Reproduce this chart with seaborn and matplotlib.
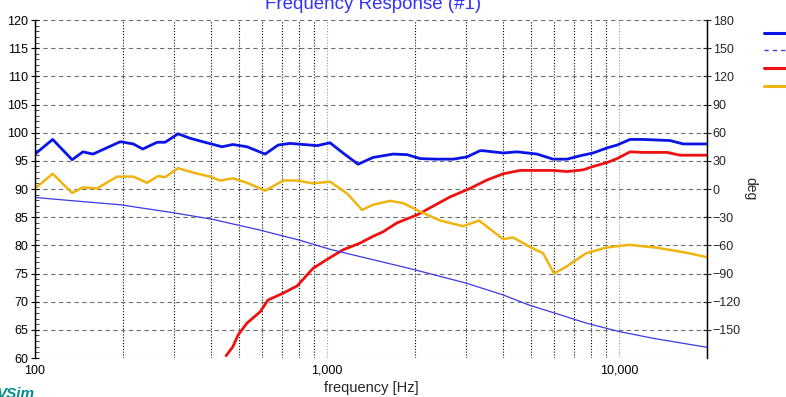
import numpy as np
import pandas as pd
import matplotlib
matplotlib.use('Agg')
import matplotlib.pyplot as plt
import matplotlib.ticker as mticker
from matplotlib.lines import Line2D
import seaborn as sns

# SPL curve (left axis, dB)
spl_freq = [100, 115, 134, 146, 158, 196, 217, 234, 262, 279, 309, 340, 388, 437,
            476, 532, 614, 680, 747, 924, 1024, 1134, 1277, 1437, 1683, 1879, 2083,
            2381, 2701, 3016, 3342, 3421, 4007, 4474, 5240, 5943, 6636, 7352, 8147,
            9098, 9844, 10905, 12085, 14950, 16570, 20000]
spl_db = [96.2, 98.8, 95.2, 96.6, 96.2, 98.4, 98.0, 97.1, 98.3, 98.3, 99.8, 99.0, 98.2, 97.5,
          97.9, 97.5, 96.2, 97.8, 98.1, 97.7, 98.2, 96.4, 94.4, 95.6, 96.2, 96.1, 95.4,
          95.3, 95.3, 95.7, 96.8, 96.8, 96.4, 96.6, 96.2, 95.3, 95.3, 95.9, 96.4,
          97.3, 97.8, 98.8, 98.8, 98.6, 98.0, 98.0]

# second SPL curve (left axis, dB)
red_freq = [451, 476, 496, 532, 590, 628, 707, 790, 895, 1000, 1134, 1297, 1437, 1555,
            1737, 2033, 2638, 3088, 3531, 4007, 4581, 5943, 6636, 7529, 8147, 9098,
            9844, 10905, 12085, 14600, 16180, 20000]
red_db = [60.4, 62.0, 64.1, 66.2, 68.2, 70.3, 71.5, 72.8, 75.9, 77.5, 79.2, 80.4, 81.6, 82.4,
          84.0, 85.4, 88.6, 90.1, 91.6, 92.7, 93.3, 93.3, 93.1, 93.4, 94.0, 94.7,
          95.4, 96.6, 96.5, 96.5, 96.0, 96.0]

# phase curves (right axis, deg)
phase_freq = [100, 129, 196, 297, 407, 590, 808, 1024, 1297, 1778, 2017, 2992, 4007,
              4918, 6085, 7709, 10000, 13077, 20000]
phase_deg = [-9, -12, -16.8, -25.2, -32.4, -43.8, -54.6, -64.2, -72, -82.2, -86.4, -100.2,
             -112.8, -123.6, -132.6, -142.8, -151.8, -159, -168.6]

orange_freq = [100, 115, 134, 146, 163, 191, 217, 242, 264, 279, 309, 348, 398, 430, 476,
               532, 614, 707, 790, 895, 1024, 1171, 1318, 1437, 1644, 1821, 2083, 2438,
               2923, 3316, 4007, 4335, 4918, 5492, 5990, 6584, 7709, 9027, 10820, 13390,
               16960, 20000]
orange_deg = [0.6, 16.2, -4.2, 1.8, 0.6, 13.2, 13.2, 6.6, 13.8, 12.6, 22.2, 17.4, 13.2, 9,
              11.4, 6.6, -1.8, 9, 9, 6, 7.8, -4.8, -22.2, -16.8, -12.6, -15, -24, -33.6,
              -39.6, -33.6, -53.4, -51.6, -61.2, -68.4, -90, -82.8, -68.4, -62.4, -59.4,
              -62.4, -67.8, -72.6]

sns.set_style('white')
plt.rcParams['font.family'] = ['Liberation Sans', 'DejaVu Sans']

c_blue = '#0a14e6'
c_blue_thin = '#3a3ae6'
c_red = '#ee1111'
c_orange = '#f0b410'

fig = plt.figure(figsize=(7.86, 3.97), dpi=100)
ax = fig.add_axes([0.0445, 0.0982, 0.855, 0.8514])
ax2 = ax.twinx()

sns.lineplot(x=spl_freq, y=spl_db, ax=ax, color=c_blue, lw=2.0, sort=False, estimator=None)
sns.lineplot(x=red_freq, y=red_db, ax=ax, color=c_red, lw=2.0, sort=False, estimator=None)
sns.lineplot(x=phase_freq, y=phase_deg, ax=ax2, color=c_blue_thin, lw=0.9, sort=False, estimator=None)
sns.lineplot(x=orange_freq, y=orange_deg, ax=ax2, color=c_orange, lw=1.8, sort=False, estimator=None)

ax.set_xscale('log')
ax.set_xlim(100, 20000)
ax.set_ylim(60, 120)
ax2.set_ylim(-180, 180)

ax.xaxis.set_major_locator(mticker.FixedLocator([100, 1000, 10000]))
ax.xaxis.set_major_formatter(mticker.FixedFormatter(['100', '1,000', '10,000']))
ax.xaxis.set_minor_locator(mticker.LogLocator(base=10, subs=np.arange(2, 10), numticks=20))
ax.xaxis.set_minor_formatter(mticker.NullFormatter())
ax.yaxis.set_major_locator(mticker.MultipleLocator(5))
ax.yaxis.set_minor_locator(mticker.MultipleLocator(1))
ax2.yaxis.set_major_locator(mticker.FixedLocator(list(range(-150, 181, 30))))

ax.tick_params(axis='both', which='major', direction='inout', length=6, width=0.8,
               labelsize=9, colors='black', pad=2)
ax.tick_params(axis='both', which='minor', direction='in', length=3, width=0.6)
ax.tick_params(axis='x', which='minor', length=0)
ax2.tick_params(axis='y', which='major', direction='inout', length=6, width=0.8,
                labelsize=9, pad=1)

ax.grid(True, axis='y', which='major', color='#707070', linestyle=(0, (4, 3)), lw=0.8)
ax.grid(True, axis='x', which='minor', color='black', linestyle=(0, (1, 1.6)), lw=0.8)
ax.grid(True, axis='x', which='major', color='#999999', linestyle=(0, (1, 1.6)), lw=0.8)
ax.set_axisbelow(True)

for a in (ax, ax2):
    a.spines['top'].set_visible(False)
    a.spines['bottom'].set_visible(False)
    a.spines['left'].set_color('black')
    a.spines['right'].set_color('black')
    a.spines['left'].set_linewidth(0.9)
    a.spines['right'].set_linewidth(0.9)
    a.set_ylabel('')

ax.set_xlabel('frequency [Hz]', fontsize=10.5, labelpad=3)
ax2.set_ylabel('deg', rotation=270, fontsize=10, labelpad=12)

# title sits partly above the top edge, as in the reference
fig.text(0.475, 1 - 9 / 397, 'Frequency Response (#1)', ha='center', va='baseline',
         color='#3333ff', fontsize=13.5)
fig.text(-0.004, 1 - 387 / 397, 'VSim', ha='left', va='top', color='#008b8b',
         fontsize=11, fontweight='bold', fontstyle='italic')

handles = [Line2D([], [], color=c_blue, lw=2.2),
           Line2D([], [], color=c_blue_thin, lw=1.0, linestyle=(0, (3, 3))),
           Line2D([], [], color=c_red, lw=2.2),
           Line2D([], [], color=c_orange, lw=2.2)]
fig.legend(handles, [' '] * 4, loc='upper left', bbox_to_anchor=(764 / 786, 1 - 28 / 397),
           frameon=False, fontsize=9, handlelength=2.2, labelspacing=0.45,
           borderpad=0, borderaxespad=0, handletextpad=0.2)

fig.savefig('out.png', dpi=100)
